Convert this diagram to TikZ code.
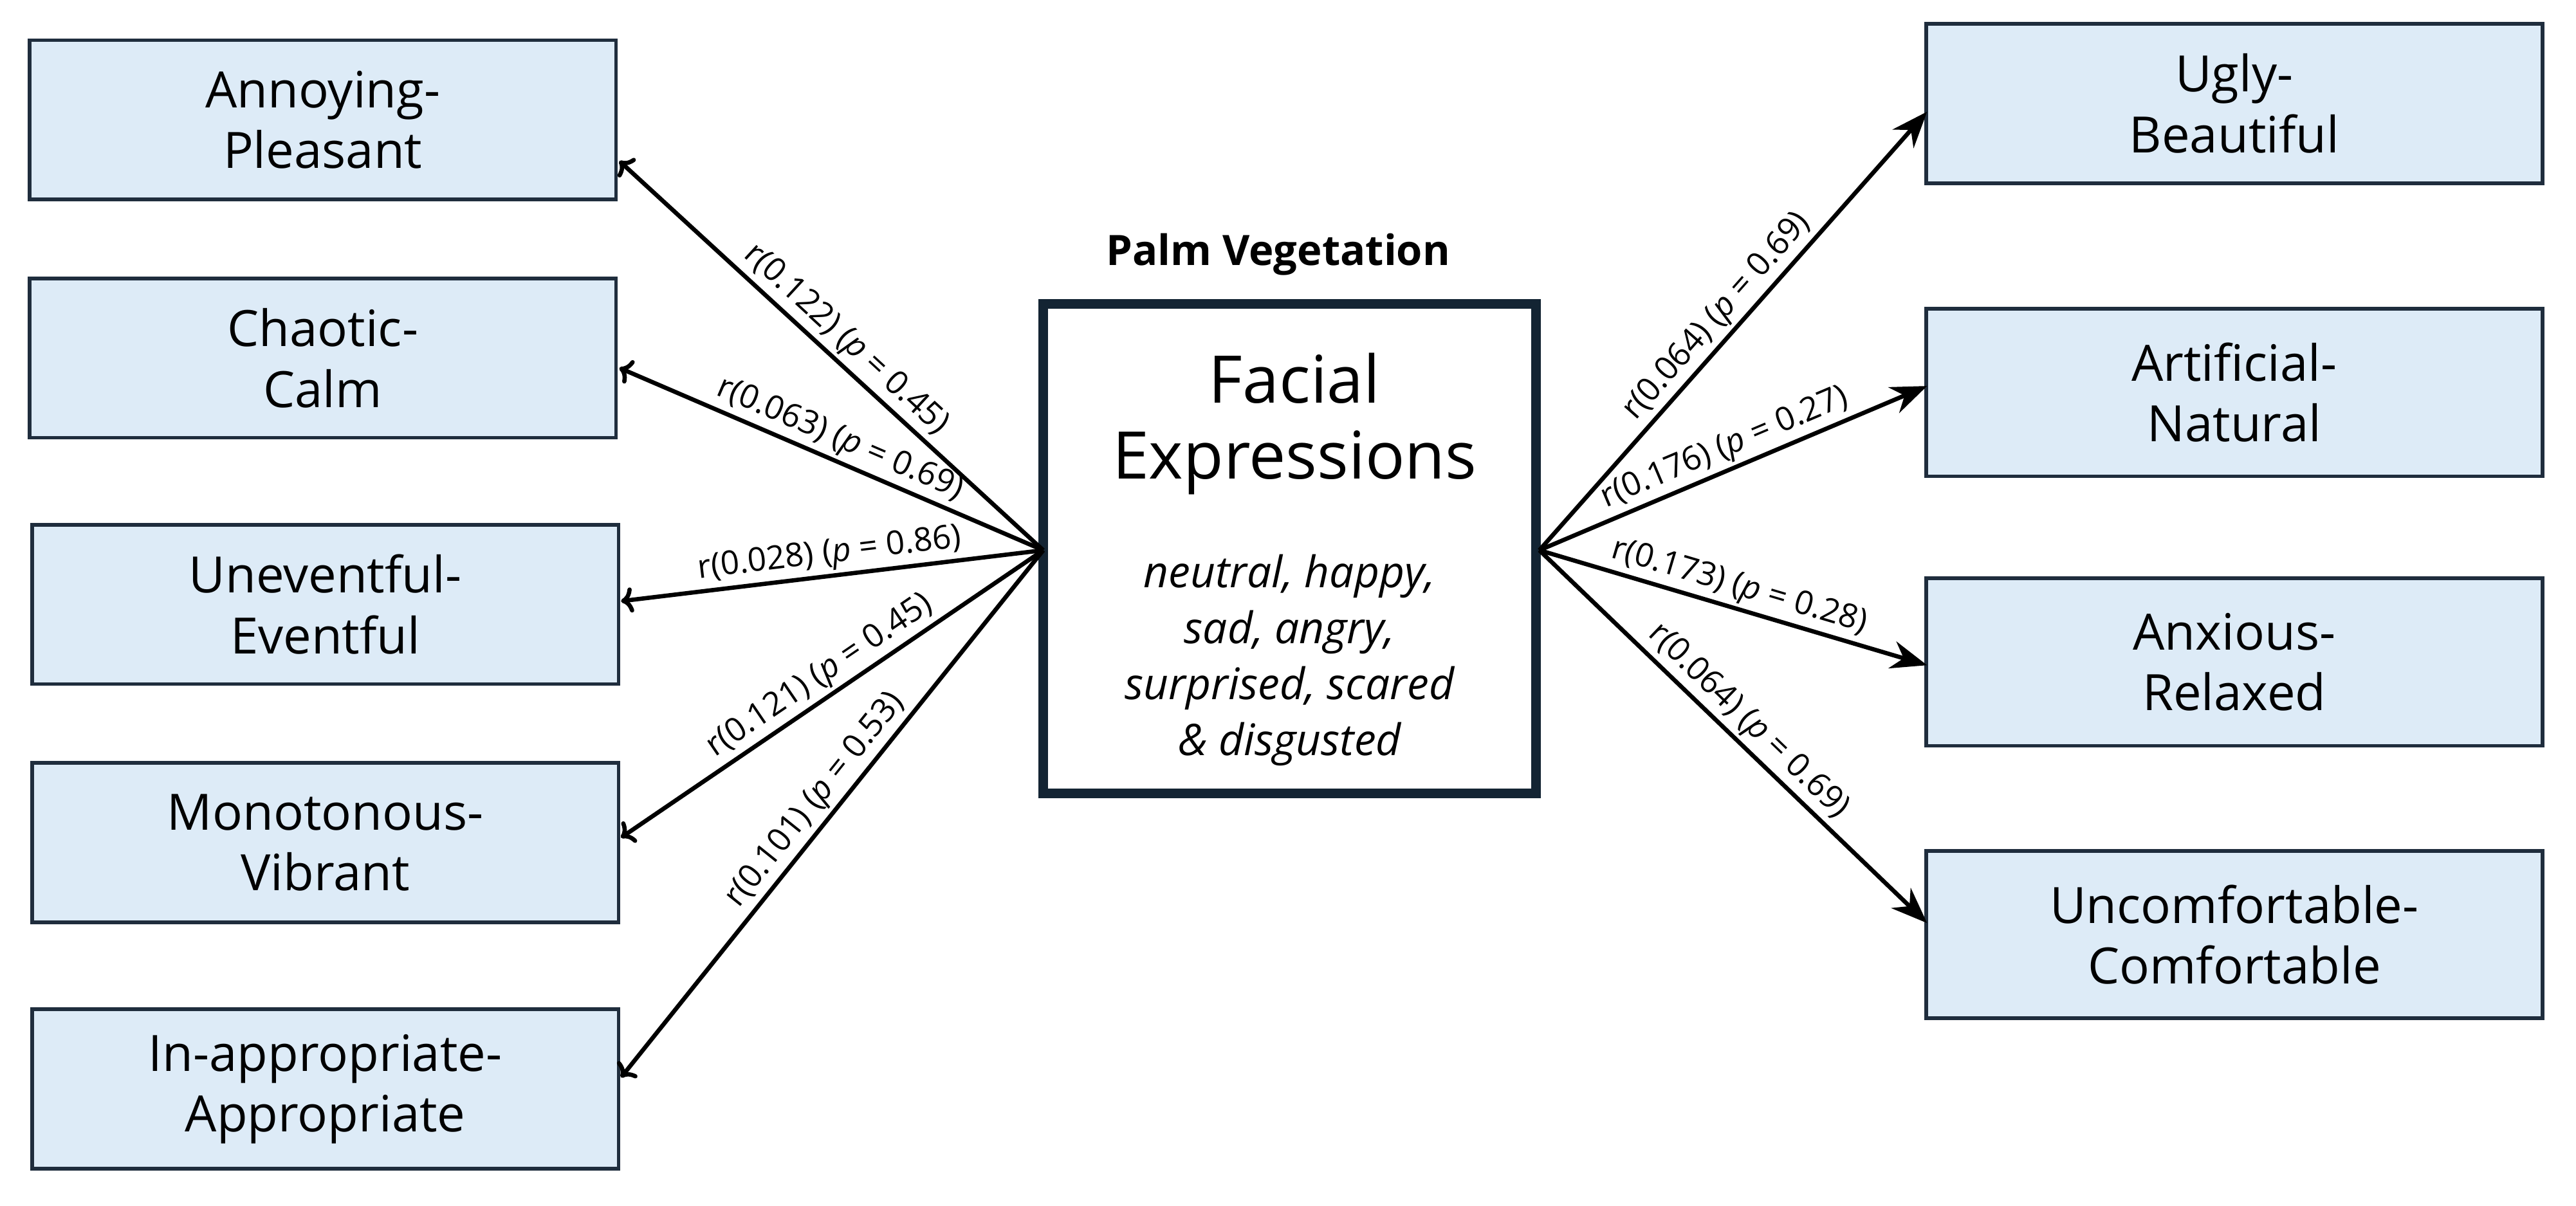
\documentclass[tikz,border=0pt]{standalone}
\usepackage{fontspec}
\setmainfont{Open Sans}
\usetikzlibrary{arrows.meta}
\definecolor{boxfill}{HTML}{DDEBF7}
\definecolor{boxline}{HTML}{1F2D3D}
\definecolor{navy}{HTML}{132433}
\begin{document}
\begin{tikzpicture}[x=1pt,y=-1pt,
  box/.style={draw=boxline,line width=2.2pt,fill=boxfill,align=center,inner sep=0pt,
    font=\fontsize{30.5}{37}\selectfont},
  arr/.style={line width=2.6pt,-{Stealth[length=22pt,width=17pt]}},
  lab/.style={sloped,above,inner sep=2pt,font=\fontsize{20}{23}\selectfont}]
\useasboundingbox (0,0) rectangle (1568,734);
% left boxes
\node[box,minimum width=357pt,minimum height=97pt] (L1) at (196.5,73) {Annoying-\\Pleasant};
\node[box,minimum width=357pt,minimum height=97pt] (L2) at (196.5,218) {Chaotic-\\Calm};
\node[box,minimum width=357pt,minimum height=97pt] (L3) at (198,368) {Uneventful-\\Eventful};
\node[box,minimum width=357pt,minimum height=97pt] (L4) at (198,513) {Monotonous-\\Vibrant};
\node[box,minimum width=357pt,minimum height=97pt] (L5) at (198,663) {In-appropriate-\\Appropriate};
% right boxes
\node[box,minimum width=375pt,minimum height=97pt] (R1) at (1360,63) {Ugly-\\Beautiful};
\node[box,minimum width=375pt,minimum height=102pt] (R2) at (1360,239) {Artificial-\\Natural};
\node[box,minimum width=375pt,minimum height=102pt] (R3) at (1360,403) {Anxious-\\Relaxed};
\node[box,minimum width=375pt,minimum height=102pt] (R4) at (1360,569) {Uncomfortable-\\Comfortable};
% centre
\node[draw=navy,line width=6pt,fill=white,minimum width=300pt,minimum height=298pt,inner sep=0pt] (C) at (785,334) {};
\node[align=center,font=\fontsize{40}{46}\selectfont] (T1) at (788,258) {Facial\\Expressions};
\node[align=center,font=\itshape\fontsize{26.5}{34}\selectfont] (T2) at (785,402) {neutral, happy,\\sad, angry,\\surprised, scared\\\& disgusted};
\node[font=\bfseries\fontsize{25.5}{30}\selectfont] (title) at (778,155) {Palm Vegetation};
% connector points
\coordinate (sl) at (635,335);
\coordinate (sr) at (937,335);
\coordinate (l1) at (377,98);
\coordinate (l2) at (377,224);
\coordinate (l3) at (378,366);
\coordinate (l4) at (378,510);
\coordinate (l5) at (378,656);
\coordinate (r1) at (1173,68);
\coordinate (r2) at (1173,235);
\coordinate (r3) at (1173,405);
\coordinate (r4) at (1173,562);
\draw[arr,<-] (l1) -- node[lab]{r(0.122) (\textit{p} = 0.45)} (sl);
\draw[arr,<-] (l2) -- node[lab]{r(0.063) (\textit{p} = 0.69)} (sl);
\draw[arr,<-] (l3) -- node[lab]{r(0.028) (\textit{p} = 0.86)} (sl);
\draw[arr,<-] (l4) -- node[lab]{r(0.121) (\textit{p} = 0.45)} (sl);
\draw[arr,<-] (l5) -- node[lab]{r(0.101) (\textit{p} = 0.53)} (sl);
\draw[arr] (sr) -- node[lab]{r(0.064) (\textit{p} = 0.69)} (r1);
\draw[arr] (sr) -- node[lab]{r(0.176) (\textit{p} = 0.27)} (r2);
\draw[arr] (sr) -- node[lab]{r(0.173) (\textit{p} = 0.28)} (r3);
\draw[arr] (sr) -- node[lab]{r(0.064) (\textit{p} = 0.69)} (r4);
\end{tikzpicture}
\end{document}
